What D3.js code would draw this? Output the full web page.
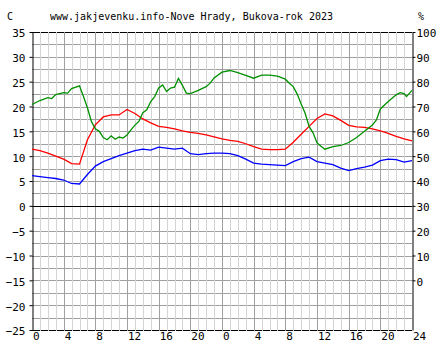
<!DOCTYPE html>
<html>
<head>
<meta charset="utf-8">
<script src="https://cdn.jsdelivr.net/npm/d3@7"></script>
<style>
  body { margin: 0; background: #fff; }
  text { font-family: "DejaVu Sans Mono", monospace; fill: #000; }
</style>
</head>
<body>
<svg id="chart" width="444" height="360"></svg>
<script>
// hours over two days (0..48), temperature C, dew point C
const hours = d3.range(0, 49);
const temp = [11.4, 11.1, 10.6, 10.0, 9.4, 8.5, 8.4, 13.3, 16.3, 17.9, 18.3, 18.3, 19.4, 18.6, 17.5, 16.7,
  16.0, 15.8, 15.5, 15.1, 14.8, 14.6, 14.3, 13.9, 13.5, 13.2, 13.0, 12.5, 11.9, 11.4, 11.3, 11.3,
  11.4, 12.8, 14.4, 16.0, 17.6, 18.5, 18.1, 17.2, 16.2, 15.9, 15.8, 15.5, 15.1, 14.6, 14.0, 13.5, 13.1];
const dew = [6.1, 5.9, 5.7, 5.5, 5.2, 4.5, 4.4, 6.3, 8.0, 8.9, 9.5, 10.1, 10.6, 11.1, 11.4, 11.2,
  11.8, 11.6, 11.4, 11.6, 10.5, 10.3, 10.5, 10.6, 10.6, 10.5, 10.1, 9.4, 8.6, 8.4, 8.3, 8.2,
  8.1, 8.9, 9.5, 9.8, 8.9, 8.6, 8.3, 7.6, 7.1, 7.5, 7.8, 8.2, 9.1, 9.4, 9.3, 8.8, 9.1];
// relative humidity %, read at uneven times
const humHours = [0, 1, 2, 2.5, 3, 4, 4.5, 5, 6, 6.5, 7, 7.5, 8, 8.5, 9, 9.5, 10, 10.5, 11, 11.5,
  12, 12.5, 13, 13.5, 14, 14.5, 15, 15.5, 16, 16.5, 17, 17.5, 18, 18.5, 19, 19.5, 20, 21, 22, 22.5,
  23, 24, 25, 26, 27, 28, 29, 30, 31, 32, 32.5, 33, 33.5, 34, 34.5, 35, 35.5, 36, 36.5, 37, 38,
  39, 40, 41, 42, 43, 43.5, 44, 45, 46, 46.5, 47, 47.3, 48];
const hum = [70.8, 72.4, 73.6, 73.2, 74.8, 75.6, 75.4, 77.2, 78.3, 74, 69.5, 64, 61, 60, 57.5, 56.6,
  58.2, 56.8, 57.7, 57.3, 58.5, 60.6, 62.5, 64, 67.5, 68.7, 72, 74, 77.5, 78.7, 76, 77.4, 77.8,
  81.3, 78.5, 75.4, 75.2, 76.5, 78, 79.4, 81.5, 83.8, 84.5, 83.6, 82.5, 81.4, 82.6, 82.6, 82.2,
  81, 79.4, 78, 75, 71, 67.3, 62, 59.4, 55.4, 54, 52.8, 53.8, 54.3, 55.5, 57.5, 60, 62.5, 64.6,
  69, 72, 74.7, 75.6, 75.2, 74, 76.5];

const xTicks = d3.range(0, 49, 4);
const xTickLabels = ["0", "4", "8", "12", "16", "20", "0", "4", "8", "12", "16", "20", "24"];
const leftTicks = d3.range(-25, 36, 5);
const rightTicks = d3.range(0, 101, 10);
const title = "www.jakjevenku.info-Nove Hrady, Bukova-rok 2023";

const svg = d3.select("#chart");
const plotL = 32, plotR = 412, plotT = 32, plotB = 330;

const x = d3.scaleLinear().domain([0, 48]).range([plotL, plotR]);
const y = d3.scaleLinear().domain([-25, 35]).range([plotB, plotT]);
const y2 = d3.scaleLinear().domain([-20, 100]).range([plotB, plotT]);

// frame top/bottom first, grid goes over it
svg.append("g").selectAll("line").data([plotT, plotB]).join("line")
  .attr("x1", plotL).attr("x2", plotR)
  .attr("y1", d => d + 0.5).attr("y2", d => d + 0.5)
  .attr("stroke", "#000");

// horizontal grid every 2.5 C
svg.append("g").selectAll("line").data(d3.range(-22.5, 35, 2.5)).join("line")
  .attr("x1", plotL).attr("x2", plotR)
  .attr("y1", d => Math.round(y(d)) + 0.5).attr("y2", d => Math.round(y(d)) + 0.5)
  .attr("stroke", "#a0a0a0");

// vertical grid, hourly light, every 4 h darker
svg.append("g").selectAll("line").data(d3.range(1, 48)).join("line")
  .attr("x1", d => Math.round(x(d)) + 0.5).attr("x2", d => Math.round(x(d)) + 0.5)
  .attr("y1", plotT).attr("y2", plotB + 1)
  .attr("stroke", d => d % 4 === 0 ? "#a0a0a0" : "#d4d4d4");

// zero line and side axes
svg.append("line")
  .attr("x1", plotL).attr("x2", plotR)
  .attr("y1", Math.round(y(0)) + 0.5).attr("y2", Math.round(y(0)) + 0.5)
  .attr("stroke", "#000");

svg.append("g")
  .attr("transform", "translate(" + (plotL + 0.5) + ",0)")
  .call(d3.axisLeft(y).tickValues(leftTicks).tickSize(3).tickPadding(4).tickSizeOuter(0))
  .call(g => g.select(".domain").attr("stroke", "#000"))
  .call(g => g.selectAll("text").style("font-size", "11px").attr("dy", "0.45em"));

svg.append("g")
  .attr("transform", "translate(" + (plotR + 0.5) + ",0)")
  .call(d3.axisRight(y2).tickValues(rightTicks).tickSize(3).tickPadding(1).tickSizeOuter(0))
  .call(g => g.select(".domain").attr("stroke", "#000"))
  .call(g => g.selectAll("text").style("font-size", "11px").attr("dy", "0.45em"));

// hour labels under the frame
svg.append("g").selectAll("text").data(xTicks).join("text")
  .attr("x", d => x(d) + 1)
  .attr("y", 340)
  .style("font-size", "11px")
  .text((d, i) => xTickLabels[i]);

// series
const tempLine = d3.line().x((d, i) => x(hours[i])).y(d => y(d));
const humLine = d3.line().x((d, i) => x(humHours[i])).y(d => y2(d));

svg.append("path").datum(dew)
  .attr("fill", "none").attr("stroke", "#0000ff").attr("stroke-width", 1.3)
  .attr("d", tempLine);
svg.append("path").datum(temp)
  .attr("fill", "none").attr("stroke", "#ff0000").attr("stroke-width", 1.3)
  .attr("d", tempLine);
svg.append("path").datum(hum)
  .attr("fill", "none").attr("stroke", "#009000").attr("stroke-width", 1.3)
  .attr("d", humLine);

// header texts
svg.append("text").attr("x", 7).attr("y", 20).style("font-size", "10px").text("C");
svg.append("text").attr("x", 50).attr("y", 20).style("font-size", "10px").text(title);
svg.append("text").attr("x", 418).attr("y", 20).style("font-size", "10px").text("%");
</script>
</body>
</html>
